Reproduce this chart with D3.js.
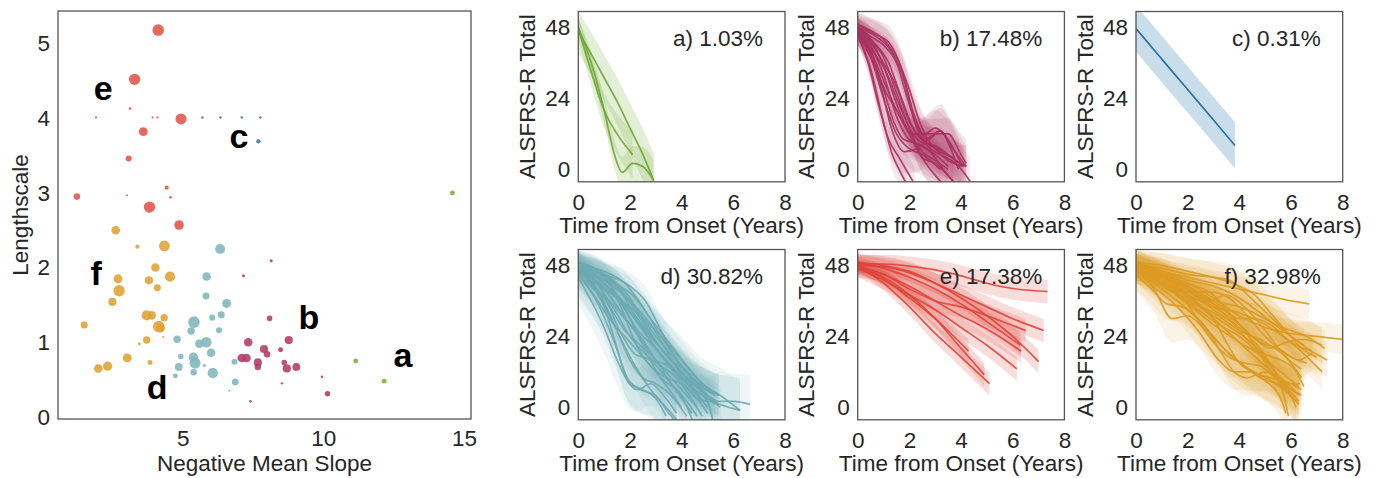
<!DOCTYPE html>
<html><head><meta charset="utf-8">
<script src="https://cdn.jsdelivr.net/npm/d3@7"></script>
<style>
html,body{margin:0;padding:0;background:#fff;}
text{font-family:"Liberation Sans",Arial,sans-serif;fill:#262626;}
</style></head>
<body><svg id="chart" width="1384" height="478"></svg>
<script>
// ---------------- DATA ----------------
// Scatter: [negative mean slope, lengthscale, cluster size weight]
const clusterA = [[14.59,3.0,4],[11.15,0.75,4],[12.16,0.48,4]];
const clusterB = [[8.15,2.09,1.5],[7.16,1.89,1.5],[8.09,1.32,5],[7.33,1.0,12],[8.77,1.03,11],[7.89,0.91,11],[8.0,0.84,7],[8.48,0.90,4],[7.10,0.79,12],[7.27,0.79,12],[7.67,0.73,11],[7.67,0.67,7],[8.61,0.73,5],[8.70,0.65,11],[9.04,0.67,10],[9.95,0.54,1],[8.53,0.45,1],[10.15,0.31,5],[7.41,0.21,1.2]];
const clusterC = [[5.70,4.01,1],[6.34,4.01,1],[7.10,4.01,1],[7.76,4.01,1],[7.69,3.69,3]];
const clusterD = [[6.33,2.25,16],[5.85,1.88,12],[5.83,1.62,8],[6.56,1.52,13],[6.37,1.37,8],[6.05,1.33,6],[5.40,1.27,22],[6.29,1.16,6],[5.30,1.15,9],[4.80,1.04,9],[5.59,0.98,12],[5.84,1.0,18],[6.01,0.86,12],[4.93,0.81,5],[5.38,0.80,14],[5.44,0.72,20],[5.77,0.69,1.5],[6.84,0.74,6],[4.86,0.67,10],[5.39,0.60,7],[6.07,0.59,18],[4.74,0.55,4],[6.87,0.47,8],[6.66,0.35,0.7]];
const clusterE = [[4.13,5.18,22],[3.29,4.52,21],[3.13,4.13,1.2],[1.92,4.01,0.8],[3.93,4.01,0.8],[4.10,4.01,0.8],[4.94,3.99,20],[3.60,3.82,13],[3.08,3.46,6],[1.24,2.95,7],[3.02,2.97,0.6],[4.43,3.07,3],[4.57,2.94,1.2],[3.82,2.81,21],[4.87,2.57,15]];
const clusterF = [[2.62,2.50,12],[3.39,2.28,3],[4.35,2.29,19],[4.03,2.0,12],[3.80,1.83,11],[4.55,1.88,17],[4.10,1.73,8],[2.70,1.85,13],[2.74,1.69,21],[2.50,1.54,11],[1.50,1.23,8],[3.72,1.36,17],[3.90,1.36,12],[4.34,1.33,9],[4.15,1.21,22],[4.22,1.19,12],[3.72,1.03,9],[3.46,0.98,1.5],[4.31,1.07,0.7],[3.03,0.79,13],[3.84,0.73,4],[2.33,0.68,14],[2.00,0.65,12]];
const clusterLetters = ["a","b","c","d","e","f"];
// annotation anchor (data coordinates of the scatter plot)
const letterX = [12.83, 9.49, 7.00, 4.09, 2.17, 1.92];
const letterY = [0.83, 1.34, 3.76, 0.40, 4.40, 1.93];
const scatterXTicks = [5,10,15];
const scatterYTicks = [0,1,2,3,4,5];

// Trajectory panels: each curve is a list of [years from onset, ALSFRS-R total]
const panelLabels = ["a) 1.03%","b) 17.48%","c) 0.31%","d) 30.82%","e) 17.38%","f) 32.98%"];
const timeTicks = [0,2,4,6,8];
const scoreTicks = [0,24,48];

const curvesA = [
 [[0,46.5],[0.5,39],[1,31],[1.5,23],[2,14],[2.5,5],[2.93,-4]],
 [[0,48],[0.5,33],[1,20],[1.5,12],[2.1,5]],
 [[0,48],[0.5,36],[1,20],[1.4,5],[1.7,-1],[2.1,2],[2.5,1],[2.9,-3.5]]
];
const bandsA = [[7,9],[4,8],[3,7]];

const curvesB = [
 [[0,48],[0.5,44],[1,38],[1.5,26],[2,14],[2.5,9],[3,8],[3.5,5],[4.1,1]],
 [[0,47],[0.5,42],[1,32],[1.5,18],[2,10],[2.5,8],[3,5],[3.5,1]],
 [[0,46],[0.5,38],[1,24],[1.5,12],[2,7],[2.5,5],[3.2,0]],
 [[0,48],[0.5,45],[1,42],[1.5,36],[2,22],[2.5,12],[3,12],[3.5,12],[4,5],[4.2,2]],
 [[0,49],[0.6,46],[1.2,43],[1.7,34],[2.2,18],[2.7,10],[3.2,13],[3.6,8],[4.2,1]],
 [[0,45],[0.4,36],[0.8,22],[1.2,10],[1.6,4],[2,-2],[2.2,-5]],
 [[0,47],[0.5,40],[1,30],[1.5,20],[2,12],[2.5,4],[3,2],[3.7,-4]],
 [[0,48],[0.5,43],[1,36],[1.5,28],[2,16],[2.5,10],[3,7],[3.5,3],[4.1,1]],
 [[0,46],[0.5,40],[1,27],[1.4,16],[1.8,10],[2.2,9],[2.8,6],[3.4,-1],[3.8,-5]],
 [[0,48],[0.7,45],[1.3,40],[1.8,30],[2.2,16],[2.7,8],[3.2,5],[3.8,2],[4.35,-4]],
 [[0,47],[0.4,41],[0.9,28],[1.3,14],[1.8,6],[2.3,7],[2.8,11],[3.2,13],[3.6,7],[3.9,0]],
 [[0,46],[0.5,34],[1,16],[1.3,6],[1.6,0],[1.9,-5]],
 [[0,48],[0.5,44],[1,35],[1.6,20],[2.1,12],[2.6,12],[3,14],[3.5,10],[4,2]],
 [[0,47],[0.5,41],[1.1,33],[1.6,22],[2,14],[2.5,4],[3,-2],[3.3,-5]],
 [[0,49],[0.5,47],[1,44],[1.5,38],[2,27],[2.4,16],[2.8,9],[3.3,6],[3.8,3],[4.2,1]],
 [[0,46],[0.6,36],[1.1,26],[1.5,20],[2,12],[2.5,6],[3.0,3],[3.5,0]],
 [[0,47],[0.6,43],[1.2,36],[1.7,24],[2.2,13],[2.7,9],[3.2,6],[3.7,4]]
];
const bandsB = [[4,7],[3,6],[4,8],[3,6],[4,9],[3,6],[3,6],[3,7],[4,7],[4,8],[5,10],[3,6],[3,7],[3,6],[4,7],[3,6],[4,8]];

const curvesC = [
 [[0,47.6],[1,37.3],[2,27.0],[3,16.7],[3.83,8.1]]
];
const bandsC = [[7.8,7.8]];

const curvesD = [
 [[0,48],[1,42],[2,33],[3,22],[4,12],[5,4],[5.5,0]],
 [[0,47],[1,40],[2,28],[3,16],[4,6],[4.6,0]],
 [[0,49],[1,45],[2,36],[3,24],[4,14],[5,6],[5.45,4.5]],
 [[0,46],[0.8,38],[1.6,24],[2.2,14],[2.8,6],[3.4,0],[3.8,-4]],
 [[0,48],[1,44],[1.5,41],[2,34],[3,20],[4,9],[4.6,3],[5.2,2],[6,2],[6.65,1]],
 [[0,47],[1,41],[2,32],[3,20],[4,10],[5,3],[6.26,-1]],
 [[0,45],[0.7,36],[1.4,22],[1.9,10],[2.4,6],[3,4],[3.5,-2],[3.8,-5]],
 [[0,48],[1,43],[2,36],[2.8,28],[3.5,18],[4.2,8],[5,2],[5.2,-4]],
 [[0,47],[0.5,44],[1,40],[1.6,37],[2.2,30],[3,22],[3.8,14],[4.5,6],[5,0]],
 [[0,49],[0.8,46],[1.5,38],[2.3,26],[3,20],[3.6,14],[4.2,8],[4.8,2]],
 [[0,46],[1,37],[1.8,26],[2.5,20],[3.2,10],[4,4],[4.4,-4]],
 [[0,48],[1,46],[1.8,42],[2.5,34],[3.2,24],[4,14],[4.7,6],[5.3,1]],
 [[0,47],[0.8,39],[1.4,28],[2,16],[2.5,10],[3,8],[3.6,4],[4.2,-3]],
 [[0,45],[0.6,38],[1.2,30],[1.8,24],[2.4,18],[3,12],[3.6,5],[4,0]],
 [[0,48],[1,44],[1.6,35],[2.2,22],[2.8,14],[3.4,10],[4,8],[4.6,3],[5,-2]],
 [[0,47],[0.5,42],[1,34],[1.5,20],[1.9,9],[2.3,6],[2.8,8],[3.3,4],[3.8,-2]],
 [[0,48],[1,45],[2,41],[2.6,36],[3.2,26],[3.8,16],[4.4,10],[5,6],[5.45,4]],
 [[0,46],[1,40],[2,34],[3,26],[4,16],[4.8,8],[5.5,4],[6.26,-1]],
 [[0,49],[0.6,47],[1.2,44],[2,37],[2.6,28],[3.2,20],[3.8,14],[4.4,8],[5,4],[5.4,2]],
 [[0,47],[0.7,42],[1.4,33],[2,24],[2.6,18],[3.2,14],[3.8,10],[4.3,4],[4.8,-3]],
 [[0,48],[1,38],[1.6,26],[2.2,18],[2.8,16],[3.4,10],[4,3],[4.4,-2]],
 [[0,46],[1,42],[2,30],[2.5,21],[3,16],[3.5,14],[4,10],[4.5,8],[5.3,4]],
 [[0,48],[0.8,44],[1.6,40],[2.4,30],[3,22],[3.6,16],[4.2,12],[4.8,6],[5.2,2]],
 [[0,45],[0.6,40],[1.2,36],[1.8,30],[2.4,24],[3,16],[3.6,8],[4.2,2],[4.6,-3]],
 [[0,44],[0.5,36],[1,27],[1.5,16],[2,8],[2.5,6],[3,3],[3.4,-3]],
 [[0,49],[0.7,46],[1.4,42],[2.1,38],[2.8,30],[3.5,22],[4.2,14],[4.8,8],[5.4,4]]
];
const bandsD = [[4,7],[3,6],[4,7],[6,9],[4,10],[4,11],[7,8],[4,7],[3,6],[4,7],[5,8],[3,6],[4,7],[8,8],[4,7],[6,8],[3,7],[4,10],[3,6],[4,7],[5,8],[4,7],[3,6],[5,7],[9,8],[4,7]];

const curvesE = [
 [[0,48.5],[1,48.5],[2,47.8],[3,46.5],[4,44.5],[5,42],[6,40.2],[7.35,39.2]],
 [[0,48],[1,47.5],[2,45.5],[3,42],[4,38],[5,34],[6,30],[7.2,26]],
 [[0,49],[1,48],[2,46],[3,42],[4,37],[5,31],[6,24],[7,15.5]],
 [[0,48],[1,45],[2,41],[3,36],[4,31],[5,26.5],[6.33,19]],
 [[0,47],[1,43],[2,38],[3,33],[4,27],[5,21],[6.16,13]],
 [[0,47],[1,45],[2,40],[3,36],[4,34],[5,31],[6.5,26]],
 [[0,48],[1,42],[2,34],[3,25],[4,17],[5.1,8]],
 [[0,47],[1,44],[2,38],[3,30],[4,20],[4.9,11]],
 [[0,48],[1,43.5],[2,37],[3,30],[4.29,19]],
 [[0,49],[1,47],[2,44],[3,40],[4,35],[5,29],[6.3,21]]
];
const bandsE = [[3,4],[3,4],[3,4],[3,4],[3,4],[3,4],[2,4],[2,4],[2,4],[3,4]];

const curvesF = [
 [[0,48],[1,46],[2,44],[3,42],[4,40],[5,38],[6,36],[6.7,35]],
 [[0,47],[1,45],[2,42],[3,37],[4,31],[5,27],[6,25],[7,24],[8,23]],
 [[0,48],[1,44],[2,40],[3,36],[4,34],[5,30],[6,24],[6.8,19],[7.4,16]],
 [[0,46],[1,43],[2,38],[3,34],[4,32],[5,28],[6,22],[7.2,12]],
 [[0,49],[1,45],[2,38],[3,30],[4,22],[5,14],[6,6],[6.35,4.5]],
 [[0,47],[0.7,40],[1.4,30],[2,31],[2.6,27],[3.4,20],[4.2,14],[5,10],[6,5],[6.3,2]],
 [[0,48],[1,42],[2,35],[3,28],[4,22],[5,16],[5.6,8],[5.9,-3]],
 [[0,47],[1,43],[2,37],[3,30],[3.5,22],[4,15],[4.5,12],[5.2,10],[6,8],[6.4,6]],
 [[0,46],[1,40],[2,33],[2.6,28],[3.2,20],[3.8,12],[4.3,10],[5,12],[5.6,10],[6.3,4]],
 [[0,48],[1,45],[2,40],[3,34],[4,28],[4.8,22],[5.5,20],[6.3,16],[6.84,18.6]],
 [[0,49],[1,46],[2,41],[3,36],[3.6,32],[4.2,26],[4.8,18],[5.4,10],[6,4],[6.3,1]],
 [[0,47],[1,44],[2,39],[2.8,36],[3.5,38],[4.2,34],[5,26],[5.8,17],[6.4,13]],
 [[0,48],[1,45],[2,42],[3,38],[3.8,30],[4.5,24],[5.2,20],[5.8,22],[6.5,23],[7.2,21]],
 [[0,46],[0.8,40],[1.6,34],[2.4,26],[3.2,16],[3.8,12],[4.4,12],[5,9],[5.6,3],[5.8,-2]],
 [[0,48],[1,44],[2,38],[3,31],[4,25],[4.6,21],[5.2,14],[5.8,8],[6.35,8]],
 [[0,47],[1,42],[2,39],[3,39],[3.6,37],[4.2,32],[5,24],[5.8,18],[6.6,15]],
 [[0,49],[1,48],[2,46],[3,44],[4,41],[4.6,38],[5.2,32],[5.8,26],[6.4,20],[7.0,17]],
 [[0,45],[0.6,40],[1.2,35],[1.8,34],[2.4,30],[3,24],[3.6,18],[4.2,14],[4.8,10],[5.4,8],[6.2,2]],
 [[0,48],[1,43],[2,36],[3,32],[4,26],[5,22],[5.8,17],[6.4,10]],
 [[0,47],[1,44],[2,41],[3,35],[3.8,28],[4.4,22],[5,18],[5.6,16],[6.2,12],[6.5,7]],
 [[0,46],[1,42],[2,35],[2.5,28],[3,22],[3.6,17],[4.2,15],[4.8,14],[5.4,10],[6,4],[6.2,0]],
 [[0,48],[1,46],[2,43],[3,41],[4,37],[4.8,32],[5.4,28],[6,26],[6.6,24],[7.3,20]],
 [[0,47],[0.8,45],[1.6,42],[2.4,38],[3.2,34],[4,30],[4.6,30],[5.2,28],[6,22],[6.8,19]],
 [[0,49],[1,45],[2,40],[3,33],[4,27],[4.8,20],[5.4,12],[6,6],[6.4,4]],
 [[0,48],[1,47],[2,45],[3,44],[3.6,43],[4.2,39],[4.8,34],[5.4,29],[6,24],[6.5,21]],
 [[0,46],[0.8,42],[1.6,38],[2.4,33],[3.2,28],[4,24],[4.8,18],[5.6,12],[6.3,7]]
];
const bandsF = [[4,5],[4,5],[4,6],[4,6],[4,6],[8,8],[4,7],[4,6],[4,7],[4,6],[4,6],[4,7],[4,6],[4,7],[4,6],[4,6],[4,6],[5,7],[4,6],[4,7],[4,7],[4,6],[4,6],[4,7],[5,6],[4,6]];

// ---------------- STYLE / LAYOUT ----------------
const clusterColors = ["#7aae3c","#b03a66","#2a78b0","#7fb5bd","#e3544a","#e0a232"];
const lineColors    = ["#6fa634","#a93260","#19679c","#6eaab3","#e04438","#dc9a22"];
const FONT = 22.5;
const svg = d3.select("#chart");

// ---------------- SCATTER ----------------
const SL=58, SR=471, ST=11, SB=419;
const sx = d3.scaleLinear().domain([0.567,15.25]).range([SL,SR]);
const sy = d3.scaleLinear().domain([-0.027,5.435]).range([SB,ST]);
const sr = d3.scaleSqrt().domain([0,22]).range([0,5.8]);

const sg = svg.append("g");
const xa = sg.append("g").attr("transform",`translate(0,${SB})`)
  .call(d3.axisBottom(sx).tickValues(scatterXTicks).tickSize(0).tickPadding(11));
const ya = sg.append("g").attr("transform",`translate(${SL},0)`)
  .call(d3.axisLeft(sy).tickValues(scatterYTicks).tickSize(0).tickPadding(8).tickFormat(d3.format("d")));
[xa,ya].forEach(a=>{a.select(".domain").remove();a.selectAll("text").attr("font-size",FONT).attr("font-family",null).style("fill","#262626");});

const clusters=[clusterA,clusterB,clusterC,clusterD,clusterE,clusterF];
clusters.forEach((pts,i)=>{
  sg.append("g").selectAll("circle").data(pts).join("circle")
    .attr("cx",d=>sx(d[0])).attr("cy",d=>sy(d[1])).attr("r",d=>sr(d[2]))
    .attr("fill",clusterColors[i]).attr("fill-opacity",0.88);
});
clusterLetters.forEach((l,i)=>{
  sg.append("text").attr("x",sx(letterX[i])).attr("y",sy(letterY[i]))
    .attr("text-anchor","middle").attr("dominant-baseline","central")
    .attr("font-size",34).attr("font-weight","bold").style("fill","#000").text(l);
});
sg.append("rect").attr("x",SL).attr("y",ST).attr("width",SR-SL).attr("height",SB-ST)
  .attr("fill","none").attr("stroke","#555").attr("stroke-width",1.3);
sg.append("text").attr("x",(SL+SR)/2).attr("y",463).attr("text-anchor","middle")
  .attr("dominant-baseline","central").attr("font-size",FONT).text("Negative Mean Slope");
sg.append("text").attr("transform",`translate(20,${(ST+SB)/2}) rotate(-90)`).attr("text-anchor","middle")
  .attr("dominant-baseline","central").attr("font-size",FONT).text("Lengthscale");

// ---------------- TRAJECTORY PANELS ----------------
const colLeft=[578.3,857.7,1136], rowTop=[11.5,249.5], PW=206.7, PH=170.3;
const allCurves=[curvesA,curvesB,curvesC,curvesD,curvesE,curvesF];
const allBands=[bandsA,bandsB,bandsC,bandsD,bandsE,bandsF];

allCurves.forEach((curves,p)=>{
  const x0=colLeft[p%3], y0=rowTop[Math.floor(p/3)];
  const g=svg.append("g").attr("transform",`translate(${x0},${y0})`);
  const x=d3.scaleLinear().domain([0,8]).range([0,PW]);
  const y=d3.scaleLinear().domain([-4.2,53.4]).range([PH,0]);
  const cid="clip"+p;
  g.append("clipPath").attr("id",cid).append("rect").attr("width",PW).attr("height",PH);
  const plot=g.append("g").attr("clip-path",`url(#${cid})`);
  const bands=allBands[p];
  curves.forEach((c,i)=>{
    const [h0,h1]=bands[i]; const tEnd=c[c.length-1][0];
    const hw=d=>h0+(h1-h0)*(d[0]/tEnd);
    const area=d3.area().curve(d3.curveMonotoneX).x(d=>x(d[0])).y0(d=>y(d[1]-hw(d))).y1(d=>y(d[1]+hw(d)));
    plot.append("path").attr("d",area(c)).attr("fill",clusterColors[p])
      .attr("fill-opacity",p===2?0.25:(curves.length>12?0.12:0.2));
  });
  const line=d3.line().curve(d3.curveMonotoneX).x(d=>x(d[0])).y(d=>y(d[1]));
  curves.forEach(c=>{
    plot.append("path").attr("d",line(c)).attr("fill","none").attr("stroke",lineColors[p])
      .attr("stroke-width",1.7).attr("stroke-opacity",0.9);
  });
  const gx=g.append("g").attr("transform",`translate(0,${PH})`)
    .call(d3.axisBottom(x).tickValues(timeTicks).tickSize(0).tickPadding(12));
  const gy=g.append("g").call(d3.axisLeft(y).tickValues(scoreTicks).tickSize(0).tickPadding(8));
  [gx,gy].forEach(a=>{a.select(".domain").remove();a.selectAll("text").attr("font-size",FONT).attr("font-family",null).style("fill","#262626");});
  g.append("rect").attr("width",PW).attr("height",PH).attr("fill","none").attr("stroke","#555").attr("stroke-width",1.3);
  g.append("text").attr("x",PW-22).attr("y",27).attr("text-anchor","end").attr("dominant-baseline","central")
    .attr("font-size",FONT).text(panelLabels[p]);
  g.append("text").attr("x",PW/2).attr("y",PH+44).attr("text-anchor","middle").attr("dominant-baseline","central")
    .attr("font-size",FONT).text("Time from Onset (Years)");
  g.append("text").attr("transform",`translate(-51,${PH/2}) rotate(-90)`).attr("text-anchor","middle")
    .attr("dominant-baseline","central").attr("font-size",FONT).text("ALSFRS-R Total");
});
</script></body></html>
